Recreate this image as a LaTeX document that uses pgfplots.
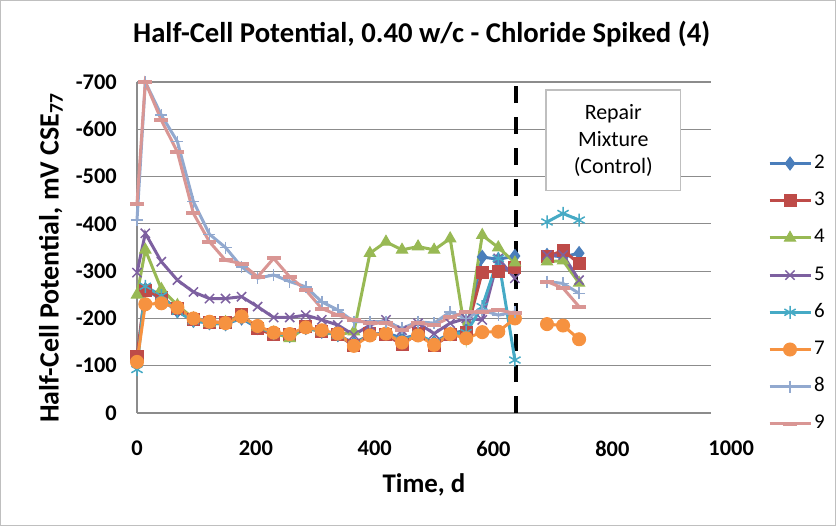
\documentclass[border=0pt]{standalone}
\usepackage{fontspec}
\setmainfont{Carlito}
\usepackage{pgfplots}
\pgfplotsset{compat=1.18}
\usepackage{pgfplotstable}

\definecolor{c2}{HTML}{4A7EBB}
\definecolor{c3}{HTML}{BE4B48}
\definecolor{c4}{HTML}{98B954}
\definecolor{c5}{HTML}{7D60A0}
\definecolor{c6}{HTML}{46AAC5}
\definecolor{c7}{HTML}{F69240}
\definecolor{c8}{HTML}{92A9CF}
\definecolor{c9}{HTML}{D99694}
\definecolor{gridgray}{HTML}{8C8C8C}
\definecolor{boxgray}{HTML}{BFBFBF}

\pgfplotstableread{
x    s2   s3   s4   s5   s6   s7   s8   s9
0   -112 -120 -250 -297  -92 -108 -408 -443
14  -262 -260 -345 -380 -268 -230 -700 -700
41  -240 -245 -262 -320 -248 -232 -630 -619
68  -215 -220 -228 -281 -215 -223 -574 -552
95  -195 -197 -200 -256 -195 -200 -447 -422
122 -190 -192 -190 -242 -190 -193 -378 -362
149 -188 -192 -192 -242 -188 -190 -350 -323
176 -200 -208 -205 -246 -202 -204 -309 -316
203 -180 -178 -182 -225 -182 -184 -285 -288
230 -168 -165 -170 -202 -168 -170 -292 -327
257 -163 -165 -158 -202 -165 -167 -278 -288
284 -180 -182 -180 -207 -180 -181 -267 -260
311 -172 -172 -172 -197 -173 -175 -235 -221
338 -165 -165 -165 -186 -165 -168 -218 -207
365 -148 -142 -172 -165 -145 -142 -193 -197
392 -165 -168 -338 -186 -165 -164 -193 -190
419 -170 -165 -362 -197 -168 -168 -193 -190
446 -158 -145 -345 -175 -152 -149 -179 -175
473 -165 -168 -352 -190 -166 -164 -193 -190
500 -150 -143 -345 -168 -148 -144 -190 -186
527 -168 -165 -369 -190 -166 -167 -214 -202
554 -175 -170 -158 -200 -170 -158 -200 -214
581 -330 -298 -376 -197 -225 -171 -218 -214
608 -325 -300 -350 -327 -327 -172 -207 -218
636 -332 -308 -318 -285 -112 -200 -214 -211
663  nan  nan  nan  nan  nan  nan  nan  nan
690 -334 -330 -320 -334 -404 -188 -278 -278
717 -330 -344 -322 -334 -422 -185 -274 -264
744 -338 -316 -275 -281 -408 -156 -253 -225
}\data

\begin{document}
\begin{tikzpicture}
\useasboundingbox (0bp,0bp) rectangle (836bp,526bp);
\draw[boxgray, line width=1bp] (0.5bp,0.5bp) rectangle (835.5bp,525.5bp);
\begin{axis}[
  at={(137bp,113bp)}, anchor=south west,
  scale only axis, width=574bp, height=331bp,
  xmin=0, xmax=966, ymin=-700, ymax=0, y dir=reverse,
  xtick={0,200,...,800}, ytick={-700,-600,...,0},
  ymajorgrids, grid style={draw=gridgray, line width=1.2bp},
  axis line style={draw=none},
  major tick length=0pt,
  tick label style={font=\fontsize{22.5}{27}\selectfont\bfseries},
  /pgf/number format/assume math mode=true,
  /pgf/number format/1000 sep={},
  yticklabel style={inner sep=0pt, anchor=east, xshift=-20bp},
  xticklabel style={inner sep=0pt, anchor=north, yshift=-28bp},
  clip=false,
  unbounded coords=jump,
  title={Half-Cell Potential, 0.40 w/c - Chloride Spiked (4)},
  title style={at={(axis description cs:0.496,1.127)}, anchor=center, inner sep=0pt, font=\fontsize{28.8}{34}\selectfont\bfseries},
  xlabel={Time, d},
  xlabel style={at={(axis description cs:0.50,-0.218)}, anchor=center, inner sep=0pt, font=\fontsize{27}{32}\selectfont\bfseries},
  ylabel={Half-Cell Potential, mV CSE\textsubscript{77}},
  ylabel style={at={(axis description cs:-0.1500,0.468)}, anchor=center, inner sep=0pt, font=\fontsize{28}{32}\selectfont\bfseries},
  every axis plot/.append style={line width=3bp},
  legend style={at={(axis description cs:1.0993,0.7840)}, anchor=north west, draw=none, fill=none,
    inner sep=0pt, outer sep=0pt, row sep=17.2bp, font=\fontsize{21}{25}\selectfont,
    nodes={inner ysep=0pt, inner xsep=2bp, text height=15bp, text depth=5bp}},
  legend cell align=left,
  legend image code/.code={\draw[mark repeat=2,mark phase=2] plot coordinates {(0bp,0bp) (20.5bp,0bp) (41bp,0bp)};},
]
\draw[gridgray, line width=1.2bp] (axis description cs:0,0) -- (axis description cs:0,1);
\draw[black, line width=4.5bp, dash pattern=on 17bp off 14bp] (axis cs:638,0) -- (axis cs:638,-700);
\addplot[c2, mark=diamond*, mark size=6.5bp, mark options={solid, fill=c2, line width=1bp}] table[x=x,y=s2]{\data};
\addlegendentry{2}
\addplot[c3, mark=square*, mark size=6bp, mark options={solid, fill=c3, line width=1bp}] table[x=x,y=s3]{\data};
\addlegendentry{3}
\addplot[c4, mark=triangle*, mark size=6.5bp, mark options={solid, fill=c4, line width=1bp}] table[x=x,y=s4]{\data};
\addlegendentry{4}
\addplot[c5, mark=x, mark size=6.5bp, mark options={solid, line width=1.5bp}] table[x=x,y=s5]{\data};
\addlegendentry{5}
\addplot[c6, mark=asterisk, mark size=6.5bp, mark options={solid, line width=1.5bp}] table[x=x,y=s6]{\data};
\addlegendentry{6}
\addplot[c7, mark=*, mark size=6.5bp, mark options={solid, fill=c7, line width=1bp}] table[x=x,y=s7]{\data};
\addlegendentry{7}
\addplot[c8, mark=+, mark size=6bp, mark options={solid, line width=1.5bp}] table[x=x,y=s8]{\data};
\addlegendentry{8}
\addplot[c9, mark=-, mark size=7bp, mark options={solid, line width=4bp}] table[x=x,y=s9]{\data};
\addlegendentry{9}
\node[inner sep=0pt, anchor=north, yshift=-28bp, font=\fontsize{22.5}{27}\selectfont\bfseries] at (axis cs:1000,0) {1000};
\node[draw=boxgray, fill=white, line width=1.2bp, minimum width=134.7bp, minimum height=100.7bp, inner sep=0pt, align=center, font=\fontsize{22}{27}\selectfont] at (axis description cs:0.8298,0.8239) {Repair\\Mixture\\(Control)};
\end{axis}
\end{tikzpicture}
\end{document}
